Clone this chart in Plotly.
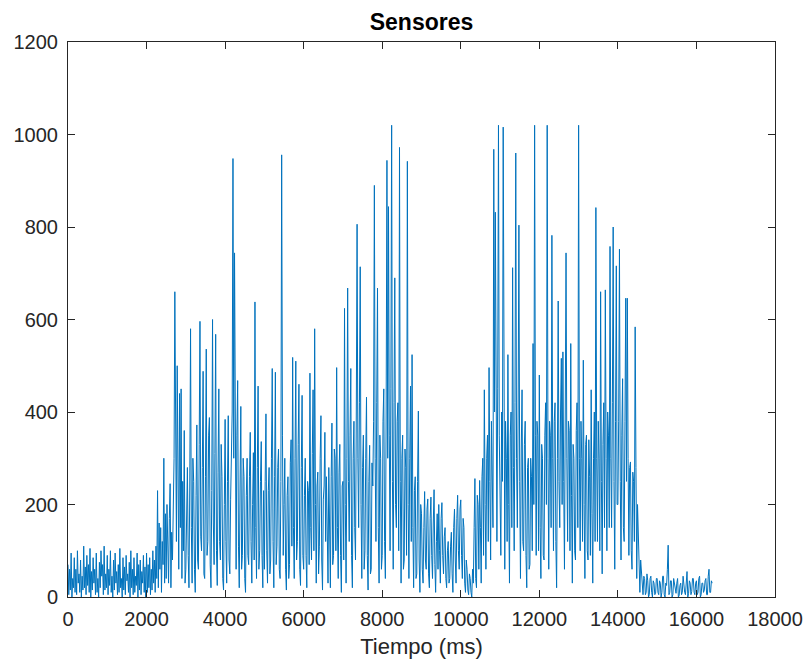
import plotly.graph_objects as go

# Sample period of the recorded signal (ms)
paso_ms = 20

# Sensor readings, one row per second (50 samples of 20 ms)
fila_00 = [70, 5, 60, 15, 95, 0, 40, 20, 85, 10, 60, 5, 100, 30, 50, 10, 80, 0, 45, 15,
           110, 20, 65, 5, 90, 25, 70, 10, 105, 0, 55, 15, 85, 30, 60, 5, 95, 10, 40, 0,
           75, 20, 100, 45, 70, 5, 110, 15, 50, 20]
fila_01 = [90, 5, 60, 25, 100, 10, 45, 0, 80, 15, 95, 30, 55, 5, 70, 10, 105, 20, 40, 0,
           85, 15, 65, 5, 90, 35, 50, 10, 75, 0, 100, 20, 60, 5, 85, 10, 45, 25, 95, 0,
           70, 15, 80, 5, 55, 30, 90, 10, 65, 0]
fila_02 = [95, 10, 70, 20, 85, 5, 60, 15, 100, 30, 80, 10, 110, 40, 230, 20, 160, 60, 150, 10,
           120, 70, 300, 30, 180, 40, 200, 90, 30, 170, 245, 20, 140, 80, 160, 300, 660, 200, 120, 500,
           350, 60, 440, 150, 450, 40, 250, 100, 360, 30]
fila_03 = [60, 200, 280, 90, 20, 240, 580, 150, 30, 300, 250, 60, 10, 220, 372, 80, 60, 330, 596, 130,
           100, 280, 488, 50, 40, 260, 536, 90, 120, 350, 388, 70, 20, 230, 600, 160, 70, 310, 568, 100,
           25, 270, 450, 120, 80, 330, 260, 40, 15, 200]
fila_04 = [384, 120, 30, 250, 392, 80, 50, 210, 280, 400, 948, 300, 744, 420, 60, 350, 468, 110, 20, 240,
           412, 60, 90, 300, 260, 40, 10, 220, 300, 90, 70, 260, 356, 120, 30, 200, 312, 80, 638, 150,
           40, 280, 456, 60, 100, 250, 336, 90, 20, 230]
fila_05 = [60, 250, 396, 100, 30, 230, 280, 50, 80, 300, 494, 120, 20, 260, 486, 70, 110, 280, 320, 60,
           40, 250, 956, 350, 90, 200, 300, 60, 15, 220, 260, 40, 70, 290, 340, 110, 518, 150, 40, 300,
           510, 80, 120, 330, 460, 60, 25, 280, 436, 90]
fila_06 = [60, 220, 300, 90, 20, 250, 230, 70, 484, 150, 80, 310, 448, 100, 580, 200, 30, 240, 270, 50,
           110, 300, 392, 80, 15, 210, 240, 356, 120, 260, 60, 30, 280, 140, 20, 260, 376, 70, 90, 320,
           300, 100, 496, 150, 40, 270, 330, 90, 10, 240]
fila_07 = [250, 80, 624, 200, 30, 300, 668, 250, 120, 350, 494, 90, 20, 300, 380, 150, 80, 400, 806, 300,
           150, 420, 714, 200, 40, 280, 350, 60, 100, 300, 432, 90, 15, 250, 328, 50, 60, 290, 240, 380,
           890, 300, 120, 420, 668, 150, 30, 350, 300, 60]
fila_08 = [90, 380, 450, 120, 40, 400, 944, 300, 844, 350, 100, 450, 1020, 250, 60, 420, 690, 200, 150, 380,
           420, 100, 972, 250, 30, 300, 350, 60, 80, 320, 280, 90, 942, 200, 40, 300, 456, 120, 524, 150,
           20, 230, 260, 40, 50, 250, 402, 80, 10, 200]
fila_09 = [180, 60, 30, 150, 228, 80, 60, 190, 212, 50, 20, 170, 216, 90, 40, 160, 232, 70, 10, 120,
           180, 60, 200, 100, 30, 170, 204, 90, 50, 130, 150, 40, 20, 100, 120, 30, 40, 110, 140, 50,
           10, 150, 190, 80, 30, 170, 220, 100, 60, 190]
fila_10 = [210, 90, 40, 170, 150, 30, 10, 80, 60, 15, 5, 50, 40, 10, 0, 60, 30, 150, 256, 40,
           20, 220, 200, 60, 252, 150, 30, 260, 300, 90, 448, 200, 60, 300, 350, 120, 496, 250, 80, 380,
           300, 150, 968, 400, 832, 300, 120, 450, 1020, 350]
fila_11 = [200, 90, 400, 250, 1016, 350, 60, 380, 300, 120, 524, 200, 30, 350, 400, 150, 712, 280, 100, 420,
           960, 300, 150, 400, 804, 250, 40, 320, 448, 120, 100, 330, 380, 90, 20, 280, 300, 60, 70, 300,
           260, 100, 548, 200, 1020, 350, 90, 380, 350, 100]
fila_12 = [480, 150, 40, 330, 300, 90, 80, 350, 420, 200, 1020, 300, 60, 380, 350, 150, 782, 300, 100, 380,
           420, 120, 20, 300, 640, 250, 150, 400, 516, 200, 530, 250, 60, 400, 744, 300, 120, 380, 360, 100,
           548, 220, 30, 330, 300, 100, 80, 360, 420, 150]
fila_13 = [1020, 300, 100, 380, 300, 120, 512, 200, 40, 330, 350, 100, 80, 340, 260, 90, 448, 180, 30, 300,
           400, 120, 842, 300, 120, 380, 300, 100, 660, 250, 50, 330, 420, 150, 664, 300, 100, 400, 350, 150,
           758, 300, 150, 420, 800, 250, 60, 380, 716, 200]
fila_14 = [200, 380, 752, 250, 80, 350, 472, 150, 120, 380, 646, 250, 646, 300, 90, 280, 292, 100, 60, 270,
           250, 120, 584, 280, 40, 200, 120, 30, 10, 80, 52, 10, 5, 45, 40, 5, 10, 50, 35, 0,
           5, 40, 45, 10, 0, 35, 30, 5, 8, 40]
fila_15 = [40, 10, 5, 35, 30, 0, 10, 45, 45, 5, 0, 30, 25, 60, 112, 5, 10, 35, 35, 0,
           5, 40, 28, 10, 8, 30, 40, 0, 3, 25, 30, 5, 10, 45, 25, 10, 5, 30, 55, 0,
           8, 35, 30, 5, 12, 40, 40, 10, 5, 30]
fila_16 = [35, 5, 10, 40, 45, 0, 5, 30, 30, 10, 15, 35, 40, 5, 5, 45, 60, 10, 10, 35, 30]

filas = [fila_00, fila_01, fila_02, fila_03, fila_04, fila_05, fila_06, fila_07, fila_08,
         fila_09, fila_10, fila_11, fila_12, fila_13, fila_14, fila_15, fila_16]
valores = [v for f in filas for v in f]
tiempo_ms = [i * paso_ms for i in range(len(valores))]

x_ticks = [0, 2000, 4000, 6000, 8000, 10000, 12000, 14000, 16000, 18000]
y_ticks = [0, 200, 400, 600, 800, 1000, 1200]

FONT = "Liberation Sans, Arial, Helvetica, sans-serif"

fig = go.Figure()
fig.add_trace(go.Scatter(
    x=tiempo_ms, y=valores, mode="lines",
    line=dict(color="#0072BD", width=1.0),
    showlegend=False,
))

axis_common = dict(
    showline=True, linecolor="#262626", linewidth=1, mirror="ticks",
    ticks="inside", ticklen=7, tickcolor="#262626", tickwidth=1,
    showgrid=False, zeroline=False, automargin=False,
    tickfont=dict(family=FONT, size=20, color="#262626"),
)

fig.update_layout(
    width=808, height=665,
    margin=dict(l=68, r=33, t=42, b=68),
    paper_bgcolor="white", plot_bgcolor="white",
    title=dict(text="<b>Sensores</b>", xref="paper", x=0.5, xanchor="center",
               y=0.967, yanchor="middle",
               font=dict(family=FONT, size=23, color="black")),
    xaxis=dict(range=[0, 18000], tickvals=x_ticks, ticktext=[str(v) for v in x_ticks],
               ticklabelstandoff=4,
               title=dict(text="Tiempo (ms)", standoff=9,
                          font=dict(family=FONT, size=22, color="#262626")),
               **axis_common),
    yaxis=dict(range=[0, 1200], tickvals=y_ticks, ticktext=[str(v) for v in y_ticks],
               ticklabelstandoff=5, **axis_common),
)

fig.write_html("out.html")
